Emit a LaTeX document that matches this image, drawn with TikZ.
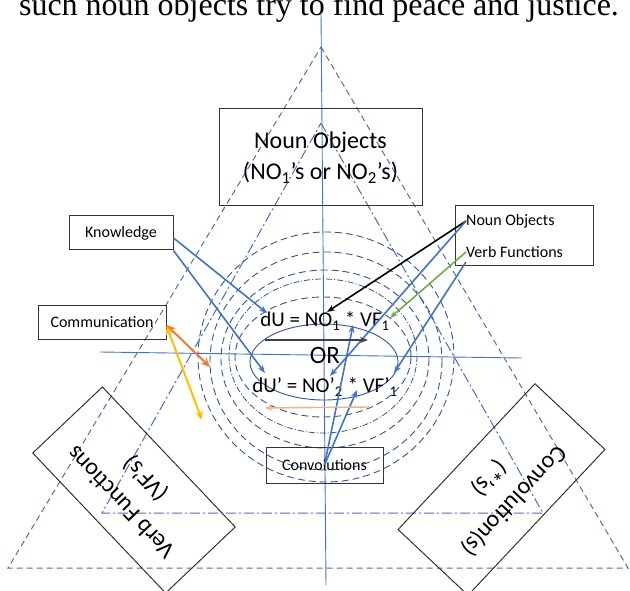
\documentclass[tikz,border=0pt]{standalone}
\usepackage{fontspec}
\setmainfont{Carlito}
\newfontfamily\pagefont{Liberation Serif}
\usetikzlibrary{arrows.meta}
\definecolor{axisblue}{HTML}{4472C4}
\definecolor{ringblue}{HTML}{2F5597}
\definecolor{dashblue}{HTML}{4A6FB5}
\definecolor{arrorange}{HTML}{ED7D31}
\definecolor{arryellow}{HTML}{FFC000}
\definecolor{arrgreen}{HTML}{70AD47}
\definecolor{lightorange}{HTML}{F4B183}
\begin{document}
\begin{tikzpicture}[x=1pt,y=-1pt,
  box/.style={draw=black!80,line width=1pt,inner sep=0pt},
  tag/.style={box,font=\fontsize{16}{19}\selectfont,minimum height=34pt},
  arr/.style={-{Stealth[length=8pt,width=6pt]},line width=1.6pt,axisblue},
  twoarr/.style={{Stealth[length=9pt,width=8pt]}-{Stealth[length=9pt,width=8pt]},line width=2pt},
  ring/.style={ringblue,line width=0.9pt,dash pattern=on 7pt off 4pt},
  dotring/.style={ringblue,line width=0.8pt,dash pattern=on 6pt off 2pt on 1pt off 2pt}]
\useasboundingbox (0,0) rectangle (630,591);
% Line of page text, cut at the top
\node[font=\pagefont\fontsize{32}{38}\selectfont,anchor=base] (pagetext) at (319,16)
  {such noun objects try to find peace and justice.};
% Triangles
\draw[dashblue,line width=1pt,dash pattern=on 6pt off 4pt] (321,47) -- (628,568) -- (8,568) -- cycle;
\draw[dashblue,line width=1pt,dash pattern=on 10pt off 3pt on 2pt off 3pt] (321,123) -- (543,513) -- (102,513) -- cycle;
% Axes
\draw[axisblue,line width=0.9pt] (321,12) -- (326,585);
\draw[axisblue,line width=0.9pt] (100,352) -- (522,358);
% Rings round the centre
\draw[ringblue,line width=0.9pt] (324,362) ellipse [x radius=74,y radius=38];
\draw[ring] (323,357) ellipse [x radius=88,y radius=60];
\draw[dotring] (323,356) ellipse [x radius=94,y radius=77];
\draw[ring] (325,359) ellipse [x radius=104,y radius=89];
\draw[ring] (326,361) ellipse [x radius=116,y radius=109];
\draw[ring] (326,357) ellipse [x radius=128,y radius=125];
% Boxes
\node[box,minimum width=203pt,minimum height=97pt,align=center,font=\fontsize{24}{31}\selectfont]
  (nountop) at (320.5,157.5) {Noun Objects\\(NO\textsubscript{1}’s or NO\textsubscript{2}’s)};
\node[tag,minimum width=104pt] (know) at (121,233) {Knowledge};
\node[tag,minimum width=128pt] (comm) at (102,322) {Communication};
\node[tag,minimum width=117pt,minimum height=36pt] (conv) at (324.5,465) {Convolutions};
\node[box,minimum width=138pt,minimum height=60pt] (nvbox) at (524,236) {};
\node[font=\fontsize{16}{19}\selectfont,anchor=west,inner sep=0pt] (nounlbl) at (466,221) {Noun Objects};
\node[font=\fontsize{16}{19}\selectfont,anchor=west,inner sep=0pt] (verblbl) at (466,252) {Verb Functions};
\node[box,minimum width=193pt,minimum height=96pt,rotate=133.5,align=center,font=\fontsize{24}{34}\selectfont]
  (verbbox) at (134,490) {Verb Functions\\(VF’s)};
\node[box,minimum width=200pt,minimum height=96pt,rotate=-133.2,align=center,font=\fontsize{24}{34}\selectfont]
  (convbox) at (501.5,489.5) {Convolution(s)\\(*’s)};
% Formulas
\node[font=\fontsize{21}{25}\selectfont] (equ1) at (325,321) {dU = NO\textsubscript{1} * VF\textsubscript{1}};
\node[font=\fontsize{25}{30}\selectfont] (ortext) at (325,355) {OR};
\node[font=\fontsize{21}{25}\selectfont] (equ2) at (325,387) {dU’ = NO’\textsubscript{2} * VF’\textsubscript{1}};
% Arrow ends
\coordinate (know-tip1) at (267,313);
\coordinate (know-tip2) at (265,373);
\coordinate (orange-tip) at (210,367);
\coordinate (yellow-tip) at (202,420);
\coordinate (black-tip) at (327,312);
\coordinate (noun-tip) at (330,376);
\coordinate (green-tip) at (390,318);
\coordinate (verb-tip) at (394,373);
\coordinate (conv-tip1) at (353,325);
\coordinate (conv-tip2) at (357,390);
\coordinate (gray-start) at (265,340);
\coordinate (gray-end) at (368,340);
\coordinate (lorange-start) at (370,407);
\coordinate (lorange-end) at (265,408);
% Arrows
\draw[arr] ([yshift=-5pt]know.east) -- (know-tip1);
\draw[arr] (know.south east) -- (know-tip2);
\draw[twoarr,arrorange] ([yshift=-3pt]comm.east) -- (orange-tip);
\draw[twoarr,arryellow] ([yshift=-4pt]comm.east) -- (yellow-tip);
\draw[arr,black] (nounlbl.west) -- (black-tip);
\draw[arr] (nounlbl.west) -- (noun-tip);
\draw[arr,arrgreen] (verblbl.west) -- (green-tip);
\draw[arr] ([yshift=-10pt]verblbl.west) -- (verb-tip);
\draw[arr] (conv.center) -- (conv-tip1);
\draw[arr] (conv.center) -- (conv-tip2);
\draw[-{Stealth[length=8pt,width=6pt]},black!75,line width=1.4pt] (gray-start) -- (gray-end);
\draw[-{Stealth[length=8pt,width=6pt,fill=arrorange]},lightorange,line width=1.4pt] (lorange-start) -- (lorange-end);
\end{tikzpicture}
\end{document}
